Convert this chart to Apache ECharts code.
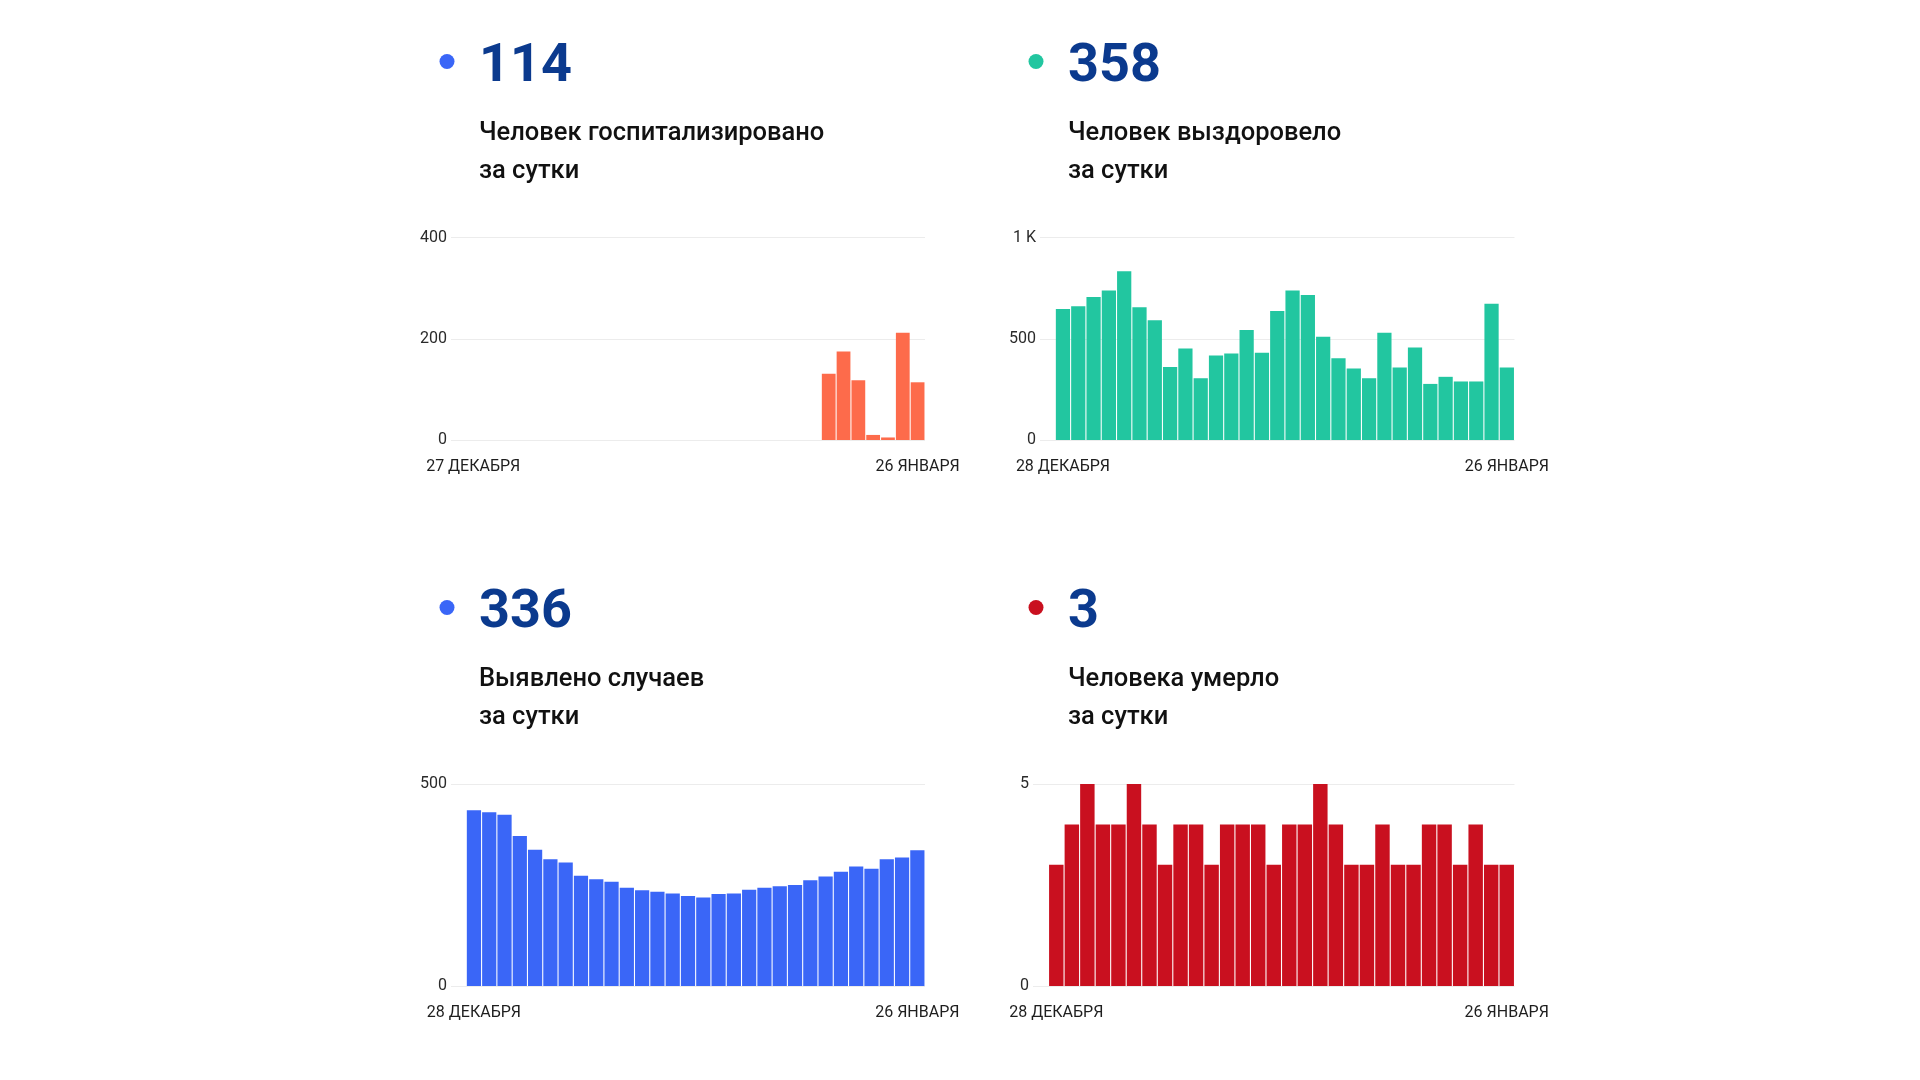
<!DOCTYPE html>
<html>
<head>
<meta charset="utf-8">
<script src="https://cdn.jsdelivr.net/npm/echarts@6/dist/echarts.min.js"></script>
<style>
html,body{margin:0;padding:0;background:#fff;}
#c{width:1920px;height:1080px;}
</style>
</head>
<body>
<div id="c"></div>
<script>
// ---- Data ----
const daysDec27 = ['27 ДЕКАБРЯ','28 ДЕКАБРЯ','29 ДЕКАБРЯ','30 ДЕКАБРЯ','31 ДЕКАБРЯ',
  '1 ЯНВАРЯ','2 ЯНВАРЯ','3 ЯНВАРЯ','4 ЯНВАРЯ','5 ЯНВАРЯ','6 ЯНВАРЯ','7 ЯНВАРЯ','8 ЯНВАРЯ',
  '9 ЯНВАРЯ','10 ЯНВАРЯ','11 ЯНВАРЯ','12 ЯНВАРЯ','13 ЯНВАРЯ','14 ЯНВАРЯ','15 ЯНВАРЯ',
  '16 ЯНВАРЯ','17 ЯНВАРЯ','18 ЯНВАРЯ','19 ЯНВАРЯ','20 ЯНВАРЯ','21 ЯНВАРЯ','22 ЯНВАРЯ',
  '23 ЯНВАРЯ','24 ЯНВАРЯ','25 ЯНВАРЯ','26 ЯНВАРЯ'];
const daysDec28 = daysDec27.slice(1);

const hospitalized = [null,null,null,null,null,null,null,null,null,null,null,null,
  null,null,null,null,null,null,null,null,null,null,null,null,
  131,175,118,10,5,212,114];
const recovered = [647,660,706,738,833,655,591,360,452,305,417,427,543,431,637,
  738,716,510,404,353,305,530,358,457,277,312,289,289,673,358];
const cases = [435,430,424,371,337,314,306,273,264,258,243,237,233,229,223,
  219,228,229,238,243,247,250,262,271,283,296,290,314,318,336];
const deaths = [3,4,5,4,4,5,4,3,4,4,3,4,4,4,3,4,4,5,4,3,3,4,3,3,4,4,3,4,3,3];

const headlines = ['114','358','336','3'];
const captions = [
  ['Человек госпитализировано','за сутки'],
  ['Человек выздоровело','за сутки'],
  ['Выявлено случаев','за сутки'],
  ['Человека умерло','за сутки']
];
const yMax = [400, 1000, 500, 5];
const yStep = [200, 500, 500, 5];

// ---- Layout / style ----
const barColors = ['#fd6b4b','#22c6a0','#3a66f7','#c9101f'];
const dotColors = ['#3a66f7','#22c6a0','#3a66f7','#c9101f'];
const grids = [
  {left:451, width:474, top:237.5, height:202.5},
  {left:1040, width:474.5, top:237.5, height:202.5},
  {left:451, width:474, top:784, height:202},
  {left:1033, width:481.5, top:784, height:202}
];
const heads = [
  {dotX:447, numX:479, y:0},
  {dotX:1036, numX:1068, y:0},
  {dotX:447, numX:479, y:546},
  {dotX:1036, numX:1068, y:546}
];
const cats = [[''].concat(daysDec27), [''].concat(daysDec28), [''].concat(daysDec28), [''].concat(daysDec28)];
const seriesData = [[null].concat(hospitalized), [null].concat(recovered), [null].concat(cases), [null].concat(deaths)];

const FONT = 'Roboto, "Noto Sans", sans-serif';

const option = {
  animation:false,
  backgroundColor:'#fff',
  grid: grids.map(g => Object.assign({containLabel:false}, g)),
  xAxis: cats.map((c,i) => ({
    type:'category', gridIndex:i, data:c,
    axisLine:{show:false}, axisTick:{show:false},
    axisLabel:{
      interval:(idx) => idx===1 || idx===c.length-1,
      color:'#1e1e1e', fontSize:16, fontFamily:FONT, margin:19,
      formatter:(v)=>v
    }
  })),
  yAxis: yMax.map((m,i) => ({
    type:'value', gridIndex:i, min:0, max:m, interval:yStep[i],
    axisLine:{show:false}, axisTick:{show:false},
    splitLine:{lineStyle:{color:'#ececec', width:1}},
    axisLabel:{color:'#2a2a2a', fontSize:16, fontFamily:FONT, margin:4,
      padding:[5,0,0,0],
      formatter:(v)=> v===1000 ? '1 K' : String(v)}
  })),
  series: seriesData.map((d,i) => ({
    type:'bar', xAxisIndex:i, yAxisIndex:i, data:d,
    barCategoryGap:'7%',
    itemStyle:{color:barColors[i]}
  })),
  graphic: []
};

heads.forEach((h,i) => {
  option.graphic.push({
    type:'circle', shape:{cx:h.dotX, cy:h.y+61.5, r:7.5},
    style:{fill:dotColors[i]}, silent:true
  });
  option.graphic.push({
    type:'text', x:h.numX, y:h.y+67,
    style:{text:headlines[i], font:'bold 54px '+FONT, fill:'#0b3a8e',
      textAlign:'left', textVerticalAlign:'middle'}, silent:true
  });
  option.graphic.push({
    type:'text', x:h.numX, y:h.y+134,
    style:{text:captions[i][0], font:'500 25.5px '+FONT, fill:'#111',
      textAlign:'left', textVerticalAlign:'middle'}, silent:true
  });
  option.graphic.push({
    type:'text', x:h.numX, y:h.y+172,
    style:{text:captions[i][1], font:'500 25.5px '+FONT, fill:'#111',
      textAlign:'left', textVerticalAlign:'middle'}, silent:true
  });
});

const chart = echarts.init(document.getElementById('c'), null, {renderer:'canvas'});
chart.setOption(option);
</script>
</body>
</html>
